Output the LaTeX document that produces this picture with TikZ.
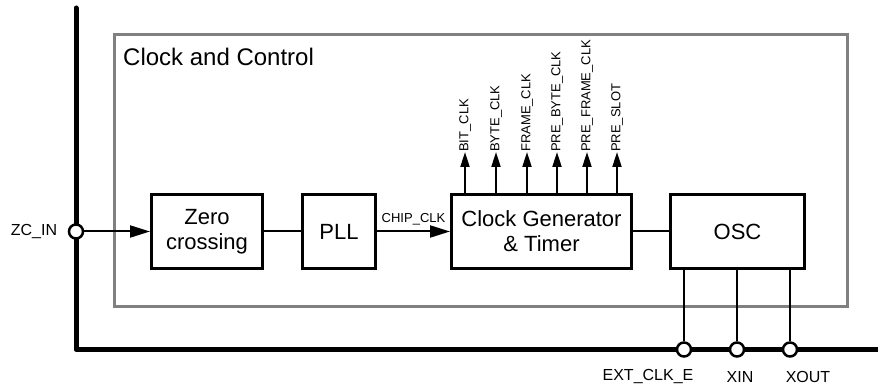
\documentclass[tikz,border=0pt]{standalone}
\usepackage{fontspec}
\setmainfont{Liberation Sans}
\usetikzlibrary{arrows.meta}
\tikzset{
  blk/.style={draw=black, line width=3pt, minimum height=74pt, align=center, inner sep=0pt, font=\fontsize{22}{25}\selectfont},
  wire/.style={line width=2pt},
  bus/.style={line width=5pt, line cap=round, line join=round},
  pinc/.style={circle, draw=black, fill=white, line width=2.5pt, minimum size=14pt, inner sep=0pt},
  lbl/.style={inner sep=0pt, font=\fontsize{16}{18}\selectfont},
  sig/.style={inner sep=0pt, font=\fontsize{13}{15}\selectfont},
  harrow/.style={wire, -{Triangle[length=20pt,width=12pt]}},
  varrow/.style={wire, -{Triangle[length=15pt,width=9pt]}}
}
\begin{document}
\begin{tikzpicture}[x=1pt,y=-1pt]
\useasboundingbox (0,0) rectangle (878,387);
% container
\node[draw=gray, line width=3pt, minimum width=733pt, minimum height=272pt, inner sep=0pt] (cc) at (481,170.5) {};
\node[anchor=west, inner sep=0pt, font=\fontsize{24}{28}\selectfont] (cctitle) at (123,56.5) {Clock and Control};
% bus
\coordinate (btop) at (76,8);
\coordinate (bcorner) at (76,349.5);
\coordinate (bend) at (880,349.5);
\draw[bus] (btop) -- (bcorner) -- (bend);
% blocks
\node[blk, minimum width=111pt] (zc) at (207,231.5) {Zero\\crossing};
\node[blk, minimum width=73pt] (pll) at (339,231.5) {PLL};
\node[blk, minimum width=180pt] (cg) at (541.5,231.5) {Clock Generator\\\& Timer};
\node[blk, minimum width=134pt] (osc) at (737.5,231.5) {OSC};
% pins
\node[pinc] (zcin) at (76,231.5) {};
\node[pinc] (p1) at (684,349.5) {};
\node[pinc] (p2) at (737,349.5) {};
\node[pinc] (p3) at (790,349.5) {};
\node[lbl] (zcinl) at (34,232) {ZC\_IN};
\node[lbl] (p1l) at (648,377) {EXT\_CLK\_E};
\node[lbl] (p2l) at (740,377) {XIN};
\node[lbl] (p3l) at (808,377) {XOUT};
% connections
\draw[harrow] (zcin) -- (zc);
\draw[wire] (zc) -- (pll);
\draw[harrow] (pll) -- (cg) node[sig, midway, above=5pt] {CHIP\_CLK};
\draw[wire] (cg) -- (osc);
\draw[wire] (p1) -- (p1 |- osc.south);
\draw[wire] (p2) -- (p2 |- osc.south);
\draw[wire] (p3) -- (p3 |- osc.south);
% outputs
\foreach \x/\n/\t in {465/o1/BIT\_CLK, 496/o2/BYTE\_CLK, 527/o3/FRAME\_CLK, 557/o4/PRE\_BYTE\_CLK, 587/o5/PRE\_FRAME\_CLK, 617/o6/PRE\_SLOT}{
  \node[sig, rotate=90, anchor=west] (\n) at (\x,152) {\t};
  \draw[varrow] (\n.west |- cg.north) -- (\n.west);
}
\end{tikzpicture}
\end{document}
